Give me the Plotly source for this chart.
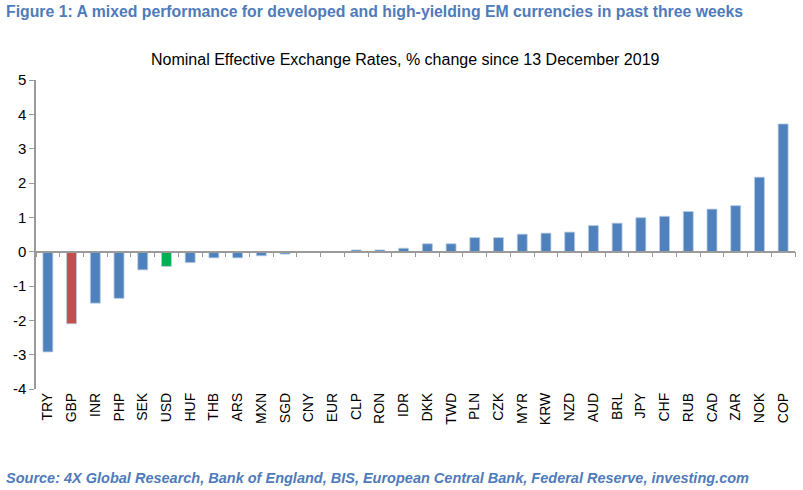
import plotly.graph_objects as go

currencies = ["TRY", "GBP", "INR", "PHP", "SEK", "USD", "HUF", "THB", "ARS", "MXN", "SGD",
              "CNY", "EUR", "CLP", "RON", "IDR", "DKK", "TWD", "PLN", "CZK", "MYR", "KRW",
              "NZD", "AUD", "BRL", "JPY", "CHF", "RUB", "CAD", "ZAR", "NOK", "COP"]
changes = [-2.92, -2.10, -1.50, -1.36, -0.53, -0.43, -0.32, -0.18, -0.18, -0.12, -0.07,
           -0.02, -0.02, 0.05, 0.05, 0.10, 0.23, 0.23, 0.41, 0.41, 0.51, 0.54,
           0.57, 0.76, 0.83, 0.99, 1.03, 1.17, 1.24, 1.34, 2.17, 3.72]
highlight = {"GBP": "#C0504D", "USD": "#00B050"}
base_color = "#4F81BD"
y_ticks = [-4, -3, -2, -1, 0, 1, 2, 3, 4, 5]

colors = [highlight.get(c, base_color) for c in currencies]

fig = go.Figure()
fig.add_trace(go.Bar(
    x=currencies, y=changes,
    marker=dict(color=colors, line=dict(color="#B9CDE5", width=0.8)),
    width=0.42, showlegend=False, hoverinfo="x+y",
))
# invisible trace to hold the zero-positioned category axis
fig.add_trace(go.Scatter(x=currencies, y=[None] * len(currencies), xaxis="x2",
                         mode="markers", showlegend=False, hoverinfo="skip"))

fig.update_layout(
    width=803, height=490,
    margin=dict(l=36, r=8, t=80, b=101),
    paper_bgcolor="white", plot_bgcolor="white",
    font=dict(family="Liberation Sans, Arial, sans-serif", color="black"),
    xaxis=dict(
        type="category", showline=False, ticks="", showgrid=False, zeroline=False,
        tickangle=-90, tickfont=dict(size=14, color="black"), automargin=False,
        range=[-0.5, len(currencies) - 0.5],
    ),
    xaxis2=dict(
        type="category", overlaying="x", anchor="free",
        position=(0 - y_ticks[0]) / (y_ticks[-1] - y_ticks[0]),
        showline=True, linecolor="#9A9A9A", linewidth=1.5,
        ticks="outside", ticklen=5, tickcolor="#9A9A9A", tickson="boundaries",
        showticklabels=False, showgrid=False, zeroline=False, automargin=False,
        range=[-0.5, len(currencies) - 0.5], matches="x",
    ),
    yaxis=dict(
        range=[y_ticks[0], y_ticks[-1]], tickvals=y_ticks,
        ticktext=[str(v) for v in y_ticks], automargin=False,
        showline=True, linecolor="#9A9A9A", linewidth=1.5,
        ticks="outside", ticklen=5, tickcolor="#9A9A9A",
        showgrid=False, zeroline=False, tickfont=dict(size=15, color="black"),
    ),
    annotations=[
        dict(text="<b>Figure 1: A mixed performance for developed and high-yielding EM currencies in past three weeks</b>",
             xref="paper", yref="paper", x=-32 / 759, y=1 + 68 / 309, xanchor="left", yanchor="middle",
             showarrow=False, font=dict(family="Liberation Sans, Arial, sans-serif", size=15.8, color="#4F7BBA")),
        dict(text="Nominal Effective Exchange Rates, % change since 13 December 2019",
             xref="paper", yref="paper", x=(405 - 36) / 759, y=1 + 21 / 309, xanchor="center", yanchor="middle",
             showarrow=False, font=dict(family="Liberation Sans, Arial, sans-serif", size=16, color="black")),
        dict(text="<b><i>Source: 4X Global Research, Bank of England, BIS, European Central Bank, Federal Reserve, investing.com</i></b>",
             xref="paper", yref="paper", x=-32 / 759, y=-(478 - 389) / 309, xanchor="left", yanchor="middle",
             showarrow=False, font=dict(family="Liberation Sans, Arial, sans-serif", size=14.5, color="#4F7BBA")),
    ],
)

fig.write_html("out.html", config={"displayModeBar": False},
               post_script="document.body.style.margin='0';")
